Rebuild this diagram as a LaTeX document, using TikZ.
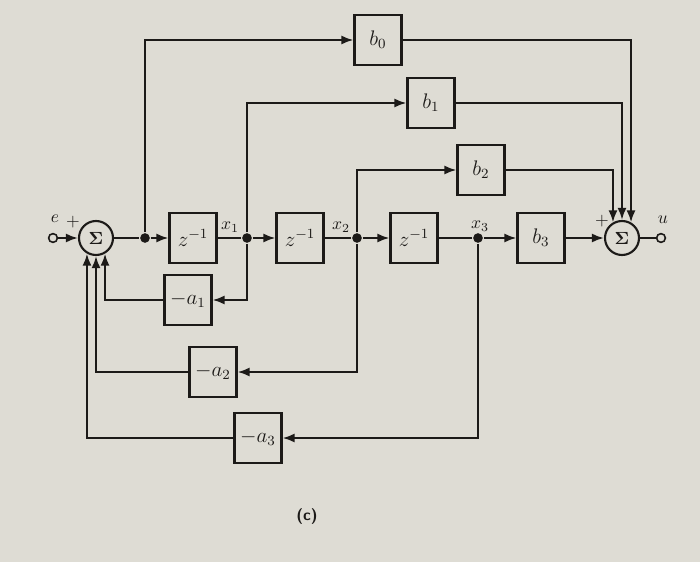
\documentclass[tikz,border=0pt]{standalone}
\usepackage{amsmath,amssymb}
\usetikzlibrary{arrows.meta,calc}
\definecolor{paper}{RGB}{222,220,212}
\definecolor{ink}{RGB}{28,26,24}

\begin{document}
\begin{tikzpicture}[x=0.02cm,y=0.02cm,>={Latex[length=2.4mm,width=1.8mm]},
  color=ink,line width=1.2pt,
  blk/.style={draw,minimum width=0.94cm,minimum height=1cm,inner sep=0pt,font=\large},
  sum/.style={draw,circle,minimum size=0.68cm,inner sep=0pt},
  term/.style={draw,circle,fill=paper,minimum size=5pt,inner sep=0pt,line width=0.9pt},
  dot/.style={circle,fill,minimum size=5.5pt,inner sep=0pt}]
\fill[paper] (0,0) rectangle (700,562);
\useasboundingbox (0,0) rectangle (700,562);
% main line
\node[term] (e) at (53,324) {};
\node[sum] (s1) at (96,324) {$\boldsymbol{\Sigma}$};
\node[dot] (j0) at (145,324) {};
\node[blk] (z1) at (193,324) {$z^{-1}$};
\node[dot] (j1) at (247,324) {};
\node[blk] (z2) at (300,324) {$z^{-1}$};
\node[dot] (j2) at (357,324) {};
\node[blk] (z3) at (414,324) {$z^{-1}$};
\node[dot] (j3) at (478,324) {};
\node[blk] (b3) at (541,324) {$b_3$};
\node[sum] (s2) at (622,324) {$\boldsymbol{\Sigma}$};
\node[term] (u) at (661,324) {};
% gains
\node[blk] (b0) at (378,522) {$b_0$};
\node[blk] (b1) at (431,459) {$b_1$};
\node[blk] (b2) at (481,392) {$b_2$};
\node[blk] (a1) at (188,262) {$-a_1$};
\node[blk] (a2) at (213,190) {$-a_2$};
\node[blk] (a3) at (258,124) {$-a_3$};
% labels
\node (le) at (55,343) {$e$};
\node (lp1) at (73,340) {$+$};
\node (lp2) at (602,341) {$+$};
\node (lu) at (663,342) {$u$};
\node (lx1) at (230,335) {$x_1$};
\node (lx2) at (341,335) {$x_2$};
\node (lx3) at (480,336) {$x_3$};
\node[font=\small\sffamily\bfseries] (lc) at (307,45) {(c)};
% forward path
\draw[->] (e) -- (s1);
\draw (s1) -- (j0);
\draw[->] (j0) -- (z1);
\draw (z1) -- (j1);
\draw[->] (j1) -- (z2);
\draw (z2) -- (j2);
\draw[->] (j2) -- (z3);
\draw (z3) -- (j3);
\draw[->] (j3) -- (b3);
\draw[->] (b3) -- (s2);
\draw (s2) -- (u);
% taps
\draw[->] (j0) |- (b0);
\draw[->] (j1) |- (b1);
\draw[->] (j2) |- (b2);
\draw[->] (j1) |- (a1);
\draw[->] (j2) |- (a2);
\draw[->] (j3) |- (a3);
% into the sums
\draw[->] (b0) -| (s2.60);
\draw[->] (b1) -| (s2.90);
\draw[->] (b2) -| (s2.120);
\draw[->] (a1) -| (s1.300);
\draw[->] (a2) -| (s1.270);
\draw[->] (a3) -| (s1.240);
\end{tikzpicture}
\end{document}
